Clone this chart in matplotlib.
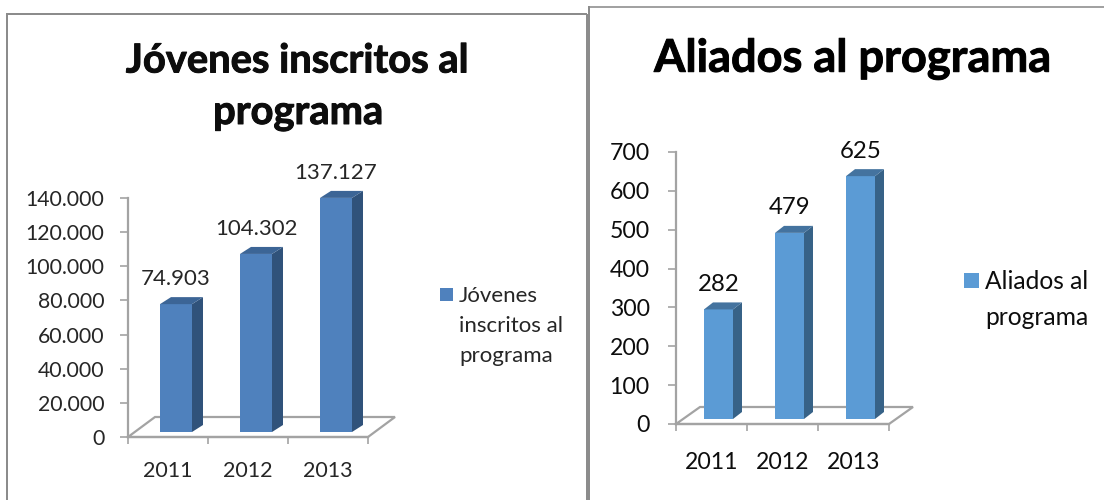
import matplotlib
matplotlib.use("Agg")
import matplotlib.pyplot as plt
import matplotlib.patheffects as pe
from matplotlib.lines import Line2D
from matplotlib.patches import Rectangle

W, H = 1104, 500

years = ["2011", "2012", "2013"]

jovenes = [74903, 104302, 137127]
jovenes_labels = ["74.903", "104.302", "137.127"]
jovenes_ticks = [0, 20000, 40000, 60000, 80000, 100000, 120000, 140000]
jovenes_ticklabels = ["0", "20.000", "40.000", "60.000", "80.000", "100.000", "120.000", "140.000"]

aliados = [282, 479, 625]
aliados_labels = ["282", "479", "625"]
aliados_ticks = [0, 100, 200, 300, 400, 500, 600, 700]
aliados_ticklabels = ["0", "100", "200", "300", "400", "500", "600", "700"]

plt.rcParams["font.family"] = ["Lato", "DejaVu Sans"]
GRAY = "#a3a3a3"
BORDER = "#8c8c8c"

fig = plt.figure(figsize=(W / 100, H / 100), dpi=100)


# pasar de pixeles de la imagen a coordenadas de figura
def fx(x):
    return x / W


def fy(y):
    return 1 - y / H


def border(xs, ys, lw=2.0):
    fig.add_artist(Line2D([fx(x) for x in xs], [fy(y) for y in ys], color=BORDER, lw=lw * 0.72,
                          solid_capstyle="butt"))


def chart(box, values, labels, ticks, ticklabels, ymax, colors, sizes, txt, geo):
    x0, x1, ytop, ybot = box
    ytick_size, xtick_size, label_size = sizes
    ax = fig.add_axes([fx(x0), fy(ybot), (x1 - x0) / W, (ybot - ytop) / H])
    ax.set_xlim(0, 3)
    ax.set_ylim(0, ymax)
    ax.patch.set_alpha(0)
    ux = 3 / (x1 - x0)
    uy = ymax / (ybot - ytop)

    # suelo del grafico
    fdx, fdy = geo["floor_dx"] * ux, geo["floor_dy"] * uy
    ax.plot([0, fdx, 3 + fdx, 3, 0], [0, fdy, fdy, 0, 0], color=GRAY, lw=1.6, clip_on=False, zorder=1,
            solid_joinstyle="miter")

    # barras en falso 3D
    front, side, top = colors
    dx, dy = geo["dx"] * ux, geo["dy"] * uy
    base = geo["base"] * uy
    w = geo["width"] * ux
    for i, v in enumerate(values):
        left = i + geo["start"] * ux
        right = left + w
        ytip = v + base
        ax.bar(left, v, width=w, bottom=base, align="edge", color=front, zorder=3, clip_on=False)
        ax.fill([right, right + dx, right + dx, right], [base, base + dy, ytip + dy, ytip], color=side, lw=0,
                zorder=3, clip_on=False)
        ax.fill([left, left + dx, right + dx, right], [ytip, ytip + dy, ytip + dy, ytip], color=top, lw=0,
                zorder=3, clip_on=False)
        ax.annotate(labels[i], (left + w / 2, ytip), xytext=(0, geo["label_off"]), textcoords="offset pixels",
                    ha="center", va="center", fontsize=label_size, color=txt, annotation_clip=False)

    for s in ["top", "right"]:
        ax.spines[s].set_visible(False)
    for s in ["left", "bottom"]:
        ax.spines[s].set_color(GRAY)
        ax.spines[s].set_linewidth(1.6)
    ax.set_yticks(ticks, ticklabels)
    ax.set_xticks([0, 1, 2, 3])
    ax.set_xticklabels([])
    ax.set_xticks([0.5, 1.5, 2.5], years, minor=True)
    ax.tick_params(axis="y", length=6, width=1.2, color=GRAY, labelsize=ytick_size, labelcolor=txt, pad=geo["ypad"])
    ax.tick_params(axis="x", which="major", length=5, width=1.2, color=GRAY)
    ax.tick_params(axis="x", which="minor", length=0, labelsize=xtick_size, labelcolor=txt, pad=geo["xpad"])
    return ax


left_geo = dict(floor_dx=27, floor_dy=20, dx=11, dy=7, base=5, width=32, start=32, label_off=25, ypad=11, xpad=17)
right_geo = dict(floor_dx=24, floor_dy=17, dx=9, dy=7, base=5, width=29, start=28, label_off=25, ypad=13, xpad=20)

chart((128, 368, 198, 437), jovenes, jovenes_labels, jovenes_ticks, jovenes_ticklabels, 140000,
      ("#4f81bd", "#30527a", "#3c6596"), (15.3, 15.5, 16), "#262626", left_geo)
chart((676, 889, 152, 424), aliados, aliados_labels, aliados_ticks, aliados_ticklabels, 700,
      ("#5b9bd5", "#376287", "#44739f"), (16.6, 16.6, 17.3), "#0d0d0d", right_geo)

# titulos
bold = [pe.withStroke(linewidth=0.7, foreground="#0d0d0d")]
fig.text(fx(297), fy(61), "Jóvenes inscritos al", ha="center", va="center", fontsize=28.7, fontweight="bold",
         color="#0d0d0d", path_effects=bold)
fig.text(fx(298), fy(113), "programa", ha="center", va="center", fontsize=28.7, fontweight="bold",
         color="#0d0d0d", path_effects=bold)
fig.text(fx(853), fy(59), "Aliados al programa", ha="center", va="center", fontsize=32.5, fontweight="bold",
         color="#000000", path_effects=bold)

# leyendas
fig.add_artist(Rectangle((fx(440), fy(301)), 13 / W, 13 / H, transform=fig.transFigure, color="#4f81bd", lw=0))
fig.text(fx(459), fy(286), "Jóvenes\ninscritos al\nprograma", ha="left", va="top", fontsize=16, color="#262626",
         linespacing=1.63)
fig.add_artist(Rectangle((fx(964), fy(288)), 15 / W, 15 / H, transform=fig.transFigure, color="#5b9bd5", lw=0))
fig.text(fx(985), fy(270), "Aliados al\nprograma", ha="left", va="top", fontsize=17.7, color="#0d0d0d", linespacing=1.68)

# marcos de cada panel
border([7, 7], [500, 14])
border([6, 587], [14, 14])
border([587, 587], [14, 500])
border([588.5, 588.5], [6, 500])
border([588, 1104], [6.5, 6.5], lw=1.6)

fig.savefig("out.png", dpi=100)
